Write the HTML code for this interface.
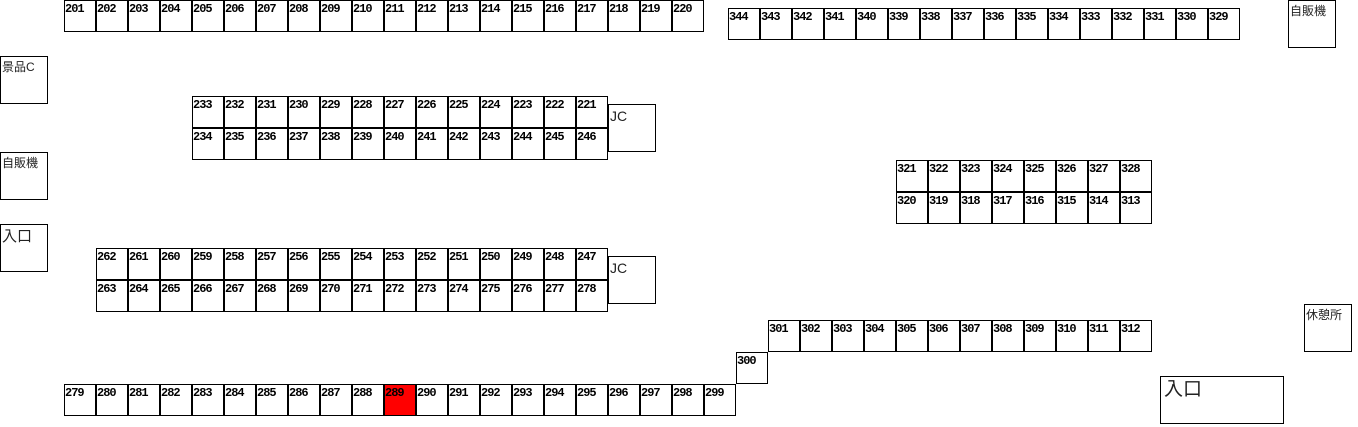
<!DOCTYPE html>
<html><head><meta charset="utf-8"><style>
body{margin:0;width:1358px;height:427px;background:#fff;position:relative;overflow:hidden}
.c,.b{position:absolute;box-sizing:border-box;border:1px solid #000;background:#fff}
.c{width:32px;height:32px;font:bold 12px/14px "Liberation Mono",monospace;padding:1px 0 0 0;letter-spacing:-1px}
.b{width:48px;height:48px;font:12px/14px "Liberation Sans","Noto Sans CJK JP",sans-serif;padding:3px 0 0 1px;color:#222}
.r{background:#f00}
</style></head><body>
<div class="c" style="left:64px;top:0">201</div><div class="c" style="left:96px;top:0">202</div><div class="c" style="left:128px;top:0">203</div><div class="c" style="left:160px;top:0">204</div><div class="c" style="left:192px;top:0">205</div><div class="c" style="left:224px;top:0">206</div><div class="c" style="left:256px;top:0">207</div><div class="c" style="left:288px;top:0">208</div><div class="c" style="left:320px;top:0">209</div><div class="c" style="left:352px;top:0">210</div><div class="c" style="left:384px;top:0">211</div><div class="c" style="left:416px;top:0">212</div><div class="c" style="left:448px;top:0">213</div><div class="c" style="left:480px;top:0">214</div><div class="c" style="left:512px;top:0">215</div><div class="c" style="left:544px;top:0">216</div><div class="c" style="left:576px;top:0">217</div><div class="c" style="left:608px;top:0">218</div><div class="c" style="left:640px;top:0">219</div><div class="c" style="left:672px;top:0">220</div>
<div class="c" style="left:728px;top:8px">344</div><div class="c" style="left:760px;top:8px">343</div><div class="c" style="left:792px;top:8px">342</div><div class="c" style="left:824px;top:8px">341</div><div class="c" style="left:856px;top:8px">340</div><div class="c" style="left:888px;top:8px">339</div><div class="c" style="left:920px;top:8px">338</div><div class="c" style="left:952px;top:8px">337</div><div class="c" style="left:984px;top:8px">336</div><div class="c" style="left:1016px;top:8px">335</div><div class="c" style="left:1048px;top:8px">334</div><div class="c" style="left:1080px;top:8px">333</div><div class="c" style="left:1112px;top:8px">332</div><div class="c" style="left:1144px;top:8px">331</div><div class="c" style="left:1176px;top:8px">330</div><div class="c" style="left:1208px;top:8px">329</div>
<div class="b" style="left:1288px;top:0">自販機</div>
<div class="b" style="left:0;top:56px">景品C</div>
<div class="c" style="left:192px;top:96px">233</div><div class="c" style="left:224px;top:96px">232</div><div class="c" style="left:256px;top:96px">231</div><div class="c" style="left:288px;top:96px">230</div><div class="c" style="left:320px;top:96px">229</div><div class="c" style="left:352px;top:96px">228</div><div class="c" style="left:384px;top:96px">227</div><div class="c" style="left:416px;top:96px">226</div><div class="c" style="left:448px;top:96px">225</div><div class="c" style="left:480px;top:96px">224</div><div class="c" style="left:512px;top:96px">223</div><div class="c" style="left:544px;top:96px">222</div><div class="c" style="left:576px;top:96px">221</div>
<div class="c" style="left:192px;top:128px">234</div><div class="c" style="left:224px;top:128px">235</div><div class="c" style="left:256px;top:128px">236</div><div class="c" style="left:288px;top:128px">237</div><div class="c" style="left:320px;top:128px">238</div><div class="c" style="left:352px;top:128px">239</div><div class="c" style="left:384px;top:128px">240</div><div class="c" style="left:416px;top:128px">241</div><div class="c" style="left:448px;top:128px">242</div><div class="c" style="left:480px;top:128px">243</div><div class="c" style="left:512px;top:128px">244</div><div class="c" style="left:544px;top:128px">245</div><div class="c" style="left:576px;top:128px">246</div>
<div class="b" style="left:608px;top:104px;font-size:14px;line-height:16px">JC</div>
<div class="b" style="left:0;top:152px">自販機</div>
<div class="b" style="left:0;top:224px;font-size:15px;line-height:17px">入口</div>
<div class="c" style="left:896px;top:160px">321</div><div class="c" style="left:928px;top:160px">322</div><div class="c" style="left:960px;top:160px">323</div><div class="c" style="left:992px;top:160px">324</div><div class="c" style="left:1024px;top:160px">325</div><div class="c" style="left:1056px;top:160px">326</div><div class="c" style="left:1088px;top:160px">327</div><div class="c" style="left:1120px;top:160px">328</div>
<div class="c" style="left:896px;top:192px">320</div><div class="c" style="left:928px;top:192px">319</div><div class="c" style="left:960px;top:192px">318</div><div class="c" style="left:992px;top:192px">317</div><div class="c" style="left:1024px;top:192px">316</div><div class="c" style="left:1056px;top:192px">315</div><div class="c" style="left:1088px;top:192px">314</div><div class="c" style="left:1120px;top:192px">313</div>
<div class="c" style="left:96px;top:248px">262</div><div class="c" style="left:128px;top:248px">261</div><div class="c" style="left:160px;top:248px">260</div><div class="c" style="left:192px;top:248px">259</div><div class="c" style="left:224px;top:248px">258</div><div class="c" style="left:256px;top:248px">257</div><div class="c" style="left:288px;top:248px">256</div><div class="c" style="left:320px;top:248px">255</div><div class="c" style="left:352px;top:248px">254</div><div class="c" style="left:384px;top:248px">253</div><div class="c" style="left:416px;top:248px">252</div><div class="c" style="left:448px;top:248px">251</div><div class="c" style="left:480px;top:248px">250</div><div class="c" style="left:512px;top:248px">249</div><div class="c" style="left:544px;top:248px">248</div><div class="c" style="left:576px;top:248px">247</div>
<div class="c" style="left:96px;top:280px">263</div><div class="c" style="left:128px;top:280px">264</div><div class="c" style="left:160px;top:280px">265</div><div class="c" style="left:192px;top:280px">266</div><div class="c" style="left:224px;top:280px">267</div><div class="c" style="left:256px;top:280px">268</div><div class="c" style="left:288px;top:280px">269</div><div class="c" style="left:320px;top:280px">270</div><div class="c" style="left:352px;top:280px">271</div><div class="c" style="left:384px;top:280px">272</div><div class="c" style="left:416px;top:280px">273</div><div class="c" style="left:448px;top:280px">274</div><div class="c" style="left:480px;top:280px">275</div><div class="c" style="left:512px;top:280px">276</div><div class="c" style="left:544px;top:280px">277</div><div class="c" style="left:576px;top:280px">278</div>
<div class="b" style="left:608px;top:256px;font-size:14px;line-height:16px">JC</div>
<div class="b" style="left:1304px;top:304px">休憩所</div>
<div class="c" style="left:768px;top:320px">301</div><div class="c" style="left:800px;top:320px">302</div><div class="c" style="left:832px;top:320px">303</div><div class="c" style="left:864px;top:320px">304</div><div class="c" style="left:896px;top:320px">305</div><div class="c" style="left:928px;top:320px">306</div><div class="c" style="left:960px;top:320px">307</div><div class="c" style="left:992px;top:320px">308</div><div class="c" style="left:1024px;top:320px">309</div><div class="c" style="left:1056px;top:320px">310</div><div class="c" style="left:1088px;top:320px">311</div><div class="c" style="left:1120px;top:320px">312</div>
<div class="c" style="left:736px;top:352px">300</div>
<div class="c" style="left:64px;top:384px">279</div><div class="c" style="left:96px;top:384px">280</div><div class="c" style="left:128px;top:384px">281</div><div class="c" style="left:160px;top:384px">282</div><div class="c" style="left:192px;top:384px">283</div><div class="c" style="left:224px;top:384px">284</div><div class="c" style="left:256px;top:384px">285</div><div class="c" style="left:288px;top:384px">286</div><div class="c" style="left:320px;top:384px">287</div><div class="c" style="left:352px;top:384px">288</div><div class="c r" style="left:384px;top:384px">289</div><div class="c" style="left:416px;top:384px">290</div><div class="c" style="left:448px;top:384px">291</div><div class="c" style="left:480px;top:384px">292</div><div class="c" style="left:512px;top:384px">293</div><div class="c" style="left:544px;top:384px">294</div><div class="c" style="left:576px;top:384px">295</div><div class="c" style="left:608px;top:384px">296</div><div class="c" style="left:640px;top:384px">297</div><div class="c" style="left:672px;top:384px">298</div><div class="c" style="left:704px;top:384px">299</div>
<div class="b" style="left:1160px;top:376px;width:124px;height:48px;font-size:19px;line-height:22px;padding:2px 0 0 3px">入口</div>
</body></html>
